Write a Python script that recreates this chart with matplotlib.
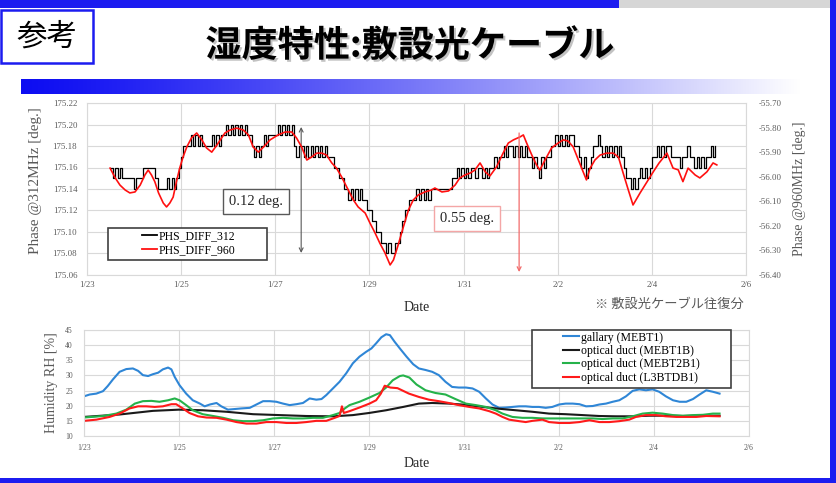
import numpy as np
import matplotlib
matplotlib.use("Agg")
import matplotlib.pyplot as plt
import matplotlib.patheffects as pe
from matplotlib.patches import Rectangle
from matplotlib.lines import Line2D
from matplotlib.ticker import FormatStrFormatter

plt.rcParams['axes.unicode_minus'] = False
SERIF = ['Liberation Serif', 'DejaVu Serif']
JP = ['Noto Sans CJK JP', 'DejaVu Sans']

# x values are days after 1/23 00:00
date_ticks = [0, 2, 4, 6, 8, 10, 12, 14]
date_labels = ['1/23', '1/25', '1/27', '1/29', '1/31', '2/2', '2/4', '2/6']

# PHS_DIFF_312, read every 0.05 day from t = 0.50, in 0.01 deg above 175.00
phs312_start = 0.50
phs312_step = 0.05
phs312_level = [
    16, 15, 16, 15, 16, 15, 15, 15, 15, 15, 14, 15, 15, 15, 16, 16, 16, 16, 16, 15,
    14, 14, 14, 14, 15, 14, 15, 14, 15, 16, 17, 18, 18, 18, 19, 18, 19, 18, 19, 18,
    18, 18, 18, 19, 18, 19, 18, 19, 19, 20, 19, 20, 19, 20, 19, 20, 19, 20, 19, 19,
    18, 17, 18, 17, 18, 19, 18, 19, 19, 19, 19, 20, 19, 20, 19, 20, 19, 20, 18, 17,
    18, 18, 17, 18, 17, 18, 17, 18, 17, 18, 17, 18, 17, 17, 17, 16, 16, 15, 15, 14,
    14, 13, 14, 13, 14, 13, 14, 13, 13, 12, 12, 11, 11, 10, 10, 9, 9, 8, 9, 8,
    8, 9, 9, 10, 11, 12, 12, 13, 13, 13, 14, 13, 14, 13, 14, 13, 14, 14, 14, 14,
    14, 14, 14, 14, 14, 15, 15, 16, 15, 16, 15, 16, 15, 16, 16, 15, 16, 16, 15, 16,
    15, 16, 16, 17, 16, 17, 17, 18, 17, 18, 18, 17, 18, 17, 18, 17, 18, 17, 17, 16,
    17, 16, 15, 17, 16, 17, 17, 18, 18, 19, 18, 19, 18, 19, 18, 19, 19, 18, 18, 17,
    16, 17, 15, 16, 17, 18, 18, 19, 18, 17, 18, 17, 18, 17, 18, 17, 18, 17, 16, 15,
    15, 14, 15, 14, 15, 16, 15, 16, 15, 16, 17, 17, 18, 17, 18, 17, 18, 18, 17, 17,
    17, 17, 16, 17, 17, 18, 17, 17, 16, 17, 16, 17, 16, 17, 17, 18, 17, 18,
]

# PHS_DIFF_960 (right axis), (day, deg)
phs960 = [
    (0.49, -55.965), (0.60, -56.005), (0.70, -56.034), (0.81, -56.054), (0.91, -56.066),
    (1.02, -56.062), (1.13, -56.034), (1.23, -55.993), (1.30, -55.973), (1.37, -55.993),
    (1.44, -56.020), (1.52, -56.066), (1.62, -56.107), (1.69, -56.123), (1.76, -56.107),
    (1.83, -56.083), (1.90, -56.020), (1.97, -55.965), (2.04, -55.920), (2.12, -55.879),
    (2.22, -55.842), (2.33, -55.822), (2.44, -55.850), (2.54, -55.883), (2.65, -55.900),
    (2.76, -55.871), (2.86, -55.842), (2.93, -55.822), (3.04, -55.810), (3.18, -55.802),
    (3.32, -55.810), (3.43, -55.830), (3.53, -55.879), (3.64, -55.900), (3.75, -55.879),
    (3.89, -55.850), (4.06, -55.830), (4.21, -55.818), (4.35, -55.818), (4.45, -55.842),
    (4.56, -55.879), (4.67, -55.932), (4.77, -55.920), (4.88, -55.904), (4.99, -55.904),
    (5.09, -55.912), (5.20, -55.944), (5.30, -55.965), (5.41, -56.001), (5.55, -56.054),
    (5.66, -56.095), (5.76, -56.123), (5.91, -56.148), (6.01, -56.188), (6.12, -56.229),
    (6.22, -56.270), (6.33, -56.310), (6.44, -56.359), (6.51, -56.339), (6.61, -56.278),
    (6.72, -56.205), (6.83, -56.135), (6.93, -56.095), (7.04, -56.074), (7.18, -56.062),
    (7.32, -56.054), (7.39, -56.046), (7.54, -56.062), (7.68, -56.058), (7.82, -56.034),
    (7.92, -56.005), (8.03, -55.993), (8.14, -55.985), (8.24, -55.973), (8.35, -55.944),
    (8.46, -55.980), (8.56, -55.997), (8.70, -55.960), (8.84, -55.904), (8.95, -55.863),
    (9.06, -55.850), (9.20, -55.838), (9.27, -55.830), (9.34, -55.863), (9.45, -55.912),
    (9.55, -55.952), (9.62, -55.973), (9.73, -55.932), (9.87, -55.883), (10.01, -55.863),
    (10.12, -55.850), (10.22, -55.855), (10.33, -55.879), (10.44, -55.932), (10.54, -55.980),
    (10.61, -56.013), (10.69, -55.965), (10.79, -55.932), (10.90, -55.912), (11.04, -55.904),
    (11.18, -55.904), (11.29, -55.920), (11.39, -55.985), (11.50, -56.054), (11.60, -56.115),
    (11.75, -56.066), (11.90, -56.020), (12.03, -55.980), (12.15, -55.945), (12.32, -55.904),
    (12.45, -55.965), (12.56, -55.972), (12.66, -56.020), (12.77, -55.965), (12.92, -55.993),
    (13.02, -56.005), (13.17, -55.980), (13.30, -55.944), (13.38, -55.952),
]

# humidity RH [%], (day, %)
gallary = [
    (0, 23.1), (0.12, 23.7), (0.26, 24.0), (0.4, 24.8), (0.5, 26.5), (0.61, 28.7), (0.75, 31.2),
    (0.89, 32.1), (1.03, 32.3), (1.14, 31.5), (1.24, 30.1), (1.35, 29.8), (1.45, 30.4), (1.56, 30.9),
    (1.66, 32.0), (1.77, 32.6), (1.84, 32.0), (1.91, 29.5), (2.01, 26.8), (2.15, 24.0), (2.29, 21.8),
    (2.44, 20.7), (2.54, 19.8), (2.65, 20.4), (2.79, 20.9), (2.89, 19.8), (3.03, 18.7), (3.17, 18.9),
    (3.31, 19.1), (3.49, 19.3), (3.63, 20.4), (3.77, 21.5), (3.91, 21.5), (4.05, 21.3), (4.19, 20.7),
    (4.33, 20.2), (4.47, 20.5), (4.61, 20.9), (4.75, 22.4), (4.89, 22.0), (5.0, 22.2), (5.1, 23.5),
    (5.24, 25.7), (5.38, 27.9), (5.52, 30.7), (5.66, 34.0), (5.8, 36.2), (5.94, 37.8), (6.05, 38.9),
    (6.15, 40.6), (6.26, 42.6), (6.36, 43.6), (6.44, 43.3), (6.54, 41.1), (6.65, 38.9), (6.79, 36.2),
    (6.93, 33.7), (7.05, 32.3), (7.19, 31.8), (7.33, 31.2), (7.47, 30.1), (7.61, 27.9), (7.75, 26.2),
    (7.89, 26.0), (8.04, 26.0), (8.18, 25.7), (8.32, 24.6), (8.46, 22.4), (8.6, 20.4), (8.74, 19.3),
    (8.88, 19.4), (9.02, 19.6), (9.16, 19.8), (9.3, 19.8), (9.44, 19.6), (9.58, 19.6), (9.72, 19.3),
    (9.86, 19.6), (10.0, 20.4), (10.14, 20.7), (10.29, 20.7), (10.43, 20.5), (10.57, 19.8),
    (10.71, 19.9), (10.85, 20.4), (10.99, 20.7), (11.13, 21.3), (11.27, 21.8), (11.41, 23.1),
    (11.55, 24.9), (11.69, 25.4), (11.83, 25.1), (11.97, 25.4), (12.11, 24.6), (12.25, 23.1),
    (12.4, 21.8), (12.54, 21.3), (12.68, 21.3), (12.82, 22.2), (12.96, 23.7), (13.1, 25.1),
    (13.24, 24.6), (13.38, 24.0),
]
mebt1b = [
    (0, 16.3), (0.75, 17.1), (1.45, 18.3), (2.0, 18.7), (2.5, 18.5), (3.0, 18.0), (3.56, 17.2),
    (4.12, 16.9), (4.68, 16.6), (5.24, 16.5), (5.66, 16.9), (6.0, 17.6), (6.36, 18.5), (6.72, 19.6),
    (7.05, 20.7), (7.33, 20.9), (7.68, 20.7), (8.04, 20.3), (8.39, 19.6), (8.74, 19.0), (9.09, 18.5),
    (9.44, 18.0), (9.79, 17.4), (10.14, 17.2), (10.5, 16.9), (10.85, 16.6), (11.2, 16.5),
    (11.55, 16.5), (11.9, 16.7), (12.25, 16.7), (12.6, 16.6), (12.96, 16.7), (13.38, 16.7),
]
mebt2b1 = [
    (0, 16.1), (0.4, 16.6), (0.68, 17.4), (0.89, 18.7), (1.07, 20.7), (1.24, 21.5), (1.42, 21.6),
    (1.59, 21.3), (1.77, 21.8), (1.91, 22.4), (2.01, 21.8), (2.15, 20.2), (2.29, 18.5), (2.5, 17.2),
    (2.72, 16.6), (2.93, 16.0), (3.14, 15.2), (3.35, 14.9), (3.56, 14.9), (3.77, 15.2), (3.98, 15.8),
    (4.19, 16.0), (4.4, 15.8), (4.61, 15.8), (4.82, 16.0), (5.03, 16.0), (5.24, 16.9), (5.38, 17.6),
    (5.49, 19.1), (5.59, 20.2), (5.8, 21.3), (6.01, 22.7), (6.22, 24.2), (6.36, 26.0), (6.5, 28.4),
    (6.65, 29.8), (6.72, 30.0), (6.85, 29.3), (7.0, 27.0), (7.19, 25.1), (7.4, 24.2), (7.61, 23.7),
    (7.82, 22.2), (8.04, 20.7), (8.25, 20.2), (8.46, 19.6), (8.67, 18.5), (8.81, 17.4), (9.02, 16.3),
    (9.23, 16.0), (9.44, 16.0), (9.65, 15.8), (9.86, 15.8), (10.07, 15.8), (10.29, 15.8), (10.5, 15.8),
    (10.71, 15.8), (10.92, 15.6), (11.13, 15.8), (11.34, 15.8), (11.55, 16.5), (11.76, 17.4),
    (11.97, 17.7), (12.18, 17.4), (12.4, 16.9), (12.61, 16.7), (12.82, 16.9), (13.03, 17.0),
    (13.24, 17.4), (13.38, 17.4),
]
l3btdb1 = [
    (0, 15.0), (0.26, 15.4), (0.54, 16.3), (0.75, 17.4), (0.96, 19.1), (1.14, 19.8), (1.31, 19.8),
    (1.49, 19.6), (1.66, 19.8), (1.84, 20.5), (1.94, 20.5), (2.08, 19.1), (2.22, 17.6), (2.4, 16.5),
    (2.58, 16.1), (2.79, 16.0), (3.0, 15.4), (3.21, 14.6), (3.42, 14.1), (3.63, 14.1), (3.84, 14.6),
    (4.05, 14.6), (4.26, 14.3), (4.47, 14.3), (4.68, 14.6), (4.89, 15.0), (5.1, 15.0), (5.28, 16.0),
    (5.38, 16.6), (5.43, 19.8), (5.47, 17.6), (5.59, 18.2), (5.8, 19.4), (6.01, 20.7), (6.15, 21.8),
    (6.25, 24.0), (6.33, 26.6), (6.45, 26.0), (6.6, 25.8), (6.84, 24.0), (7.05, 22.9), (7.26, 22.0),
    (7.47, 21.5), (7.68, 20.9), (7.89, 20.2), (8.11, 19.6), (8.32, 19.1), (8.53, 18.2), (8.67, 17.4),
    (8.81, 16.3), (8.95, 15.4), (9.16, 14.9), (9.3, 14.6), (9.44, 15.0), (9.65, 15.4), (9.79, 14.6),
    (10.0, 14.3), (10.22, 14.3), (10.43, 14.6), (10.64, 15.2), (10.85, 14.6), (11.06, 14.6),
    (11.27, 14.9), (11.48, 15.4), (11.62, 16.3), (11.83, 16.9), (12.04, 16.9), (12.25, 16.5),
    (12.47, 16.3), (12.68, 16.3), (12.89, 16.3), (13.1, 16.6), (13.38, 16.5),
]

phase312_ticks = np.linspace(175.06, 175.22, 9)
phase960_ticks = np.linspace(-56.40, -55.70, 8)
rh_ticks = [10, 15, 20, 25, 30, 35, 40, 45]

W, H = 837, 483
BLUE = '#1c1cf0'
GRID = '#d9d9d9'
TXT = '#595959'


def fx(x):
    return x / W


def fy(y):
    return 1 - y / H


def px_rect(x0, y0, x1, y1, **kw):
    fig.patches.append(Rectangle((fx(x0), fy(y1)), (x1 - x0) / W, (y1 - y0) / H,
                                 transform=fig.transFigure, figure=fig, **kw))


def style(ax, size):
    ax.set_facecolor('none')
    ax.grid(True, color=GRID, lw=0.8)
    ax.set_axisbelow(True)
    for s in ax.spines.values():
        s.set_color(GRID)
        s.set_linewidth(0.8)
    ax.tick_params(length=0, labelsize=size, labelcolor=TXT)
    for lab in ax.get_xticklabels() + ax.get_yticklabels():
        lab.set_family(SERIF)


fig = plt.figure(figsize=(W / 100, H / 100), dpi=100)

# slide frame
px_rect(0, 0, 619, 8, color=BLUE, lw=0)
px_rect(619, 0, 830, 8, color='#d6d6d6', lw=0)
px_rect(830, 0, 837, 483, color=BLUE, lw=0)
px_rect(0, 478, 837, 483, color=BLUE, lw=0)
px_rect(1, 10, 93, 63, facecolor='white', edgecolor=BLUE, lw=1.8)
fig.text(fx(47), fy(37), '参考', family=JP, fontsize=22, ha='center', va='center')
fig.text(fx(410), fy(46), '湿度特性:敷設光ケーブル', family=JP, fontsize=26,
         fontweight='bold', ha='center', va='center',
         path_effects=[pe.withSimplePatchShadow(offset=(1.5, -1.5), shadow_rgbFace='#9a9a9a',
                                                alpha=0.6)])

# gradient bar under the title
gax = fig.add_axes([fx(21), fy(94), (801 - 21) / W, 15 / H])
g = np.linspace(0, 1, 300) ** 1.2
img = np.zeros((1, 300, 3))
img[0, :, 0] = 0.05 + 0.95 * g
img[0, :, 1] = 0.05 + 0.95 * g
img[0, :, 2] = 0.95 + 0.05 * g
gax.imshow(img, aspect='auto')
gax.axis('off')

# phase chart
ax1 = fig.add_axes([fx(87), fy(275), (746 - 87) / W, (275 - 103) / H])
t312 = phs312_start + phs312_step * np.arange(len(phs312_level))
ax1.plot(t312, 175 + np.array(phs312_level) / 100, drawstyle='steps-post',
         color='black', lw=0.9)
ax1.set_xlim(0, 14)
ax1.set_ylim(175.06, 175.22)
ax1.set_xticks(date_ticks, date_labels)
ax1.set_yticks(phase312_ticks)
ax1.yaxis.set_major_formatter(FormatStrFormatter('%.2f'))
style(ax1, 6.3)
ax1.tick_params(axis='y', pad=7)
ax1.tick_params(axis='x', pad=4)
ax1.set_ylabel('Phase @312MHz [deg.]', family=SERIF, fontsize=11, color=TXT)
ax1.yaxis.set_label_coords(-0.068, 0.55)
ax1.set_xlabel('Date', family=SERIF, fontsize=10, color='#262626')
ax1.xaxis.set_label_coords(0.5, -0.15)

ax2 = ax1.twinx()
t960, v960 = np.array(phs960).T
ax2.plot(t960, v960, color='#ff1010', lw=1.2)
ax2.set_ylim(-56.40, -55.70)
ax2.set_yticks(phase960_ticks)
ax2.yaxis.set_major_formatter(FormatStrFormatter('%.2f'))
for s in ax2.spines.values():
    s.set_visible(False)
ax2.tick_params(length=0, labelsize=6.3, labelcolor=TXT, pad=9)
for lab in ax2.get_yticklabels():
    lab.set_family(SERIF)
ax2.set_ylabel('Phase @960MHz [deg.]', family=SERIF, fontsize=10, color=TXT)
ax2.yaxis.set_label_coords(1.071, 0.5)

# range markers
ax1.annotate('', xy=(4.55, 175.0805), xytext=(4.55, 175.1977),
             arrowprops=dict(arrowstyle='<->', color='#595959', lw=0.8,
                             shrinkA=0, shrinkB=0, mutation_scale=7))
ax2.annotate('', xy=(9.18, -56.388), xytext=(9.18, -55.822),
             arrowprops=dict(arrowstyle='->', color='#f26b6b', lw=0.9,
                             shrinkA=0, shrinkB=0, mutation_scale=7))
ax2.text(3.59, -56.10, '0.12 deg.', family=SERIF, fontsize=10.5, color='#262626',
         ha='center', va='center', zorder=6,
         bbox=dict(boxstyle='square,pad=0.4', fc='white', ec='#595959', lw=1.0))
ax2.text(8.08, -56.17, '0.55 deg.', family=SERIF, fontsize=10.5, color='#262626',
         ha='center', va='center', zorder=6,
         bbox=dict(boxstyle='square,pad=0.4', fc='white', ec='#f4a6a6', lw=1.0))

ax2.add_patch(Rectangle((0.032, 0.087), 0.241, 0.186, transform=ax2.transAxes,
                        fc='white', ec='#404040', lw=1.2, zorder=4, clip_on=False))
leg1 = ax2.legend([Line2D([], [], color='black', lw=1.3), Line2D([], [], color='#ff1010', lw=1.3)],
                  ['PHS_DIFF_312', 'PHS_DIFF_960'], loc='upper left',
                  bbox_to_anchor=(0.083, 0.262), frameon=False,
                  prop=dict(family=SERIF, size=8.5), handlelength=1.3, handletextpad=0.15,
                  borderpad=0, borderaxespad=0, labelspacing=0.2)
leg1.set_zorder(5)

fig.text(fx(595), fy(304), '※ 敷設光ケーブル往復分', family=JP, fontsize=9.5,
         color=TXT, ha='left', va='center')

# humidity chart
ax3 = fig.add_axes([fx(84), fy(436), (749 - 84) / W, (436 - 330) / H])
series = [(gallary, '#2f86d6', 'gallary (MEBT1)'),
          (mebt1b, '#1a1a1a', 'optical duct (MEBT1B)'),
          (mebt2b1, '#25b24a', 'optical duct (MEBT2B1)'),
          (l3btdb1, '#ff1a1a', 'optical duct (L3BTDB1)')]
for data, col, name in series:
    tt, vv = np.array(data).T
    ax3.plot(tt, vv, color=col, lw=1.5, label=name)
ax3.set_xlim(0, 14)
ax3.set_ylim(10, 45)
ax3.set_xticks(date_ticks, date_labels)
ax3.set_yticks(rh_ticks)
style(ax3, 5.5)
ax3.tick_params(axis='y', pad=8)
ax3.tick_params(axis='x', pad=6)
ax3.set_ylabel('Humidity RH [%]', family=SERIF, fontsize=10, color=TXT)
ax3.yaxis.set_label_coords(-0.039, 0.5)
ax3.set_xlabel('Date', family=SERIF, fontsize=10, color='#262626')
ax3.xaxis.set_label_coords(0.5, -0.2)

ax3.add_patch(Rectangle((0.674, 0.453), 0.299, 0.547, transform=ax3.transAxes,
                        fc='white', ec='#404040', lw=1.2, zorder=4, clip_on=False))
leg2 = ax3.legend(loc='upper left', bbox_to_anchor=(0.72, 0.985), frameon=False,
                  prop=dict(family=SERIF, size=8.5), handlelength=1.4, handletextpad=0.1,
                  borderpad=0, borderaxespad=0, labelspacing=0.12)
leg2.set_zorder(5)

fig.savefig('out.png', dpi=100)
